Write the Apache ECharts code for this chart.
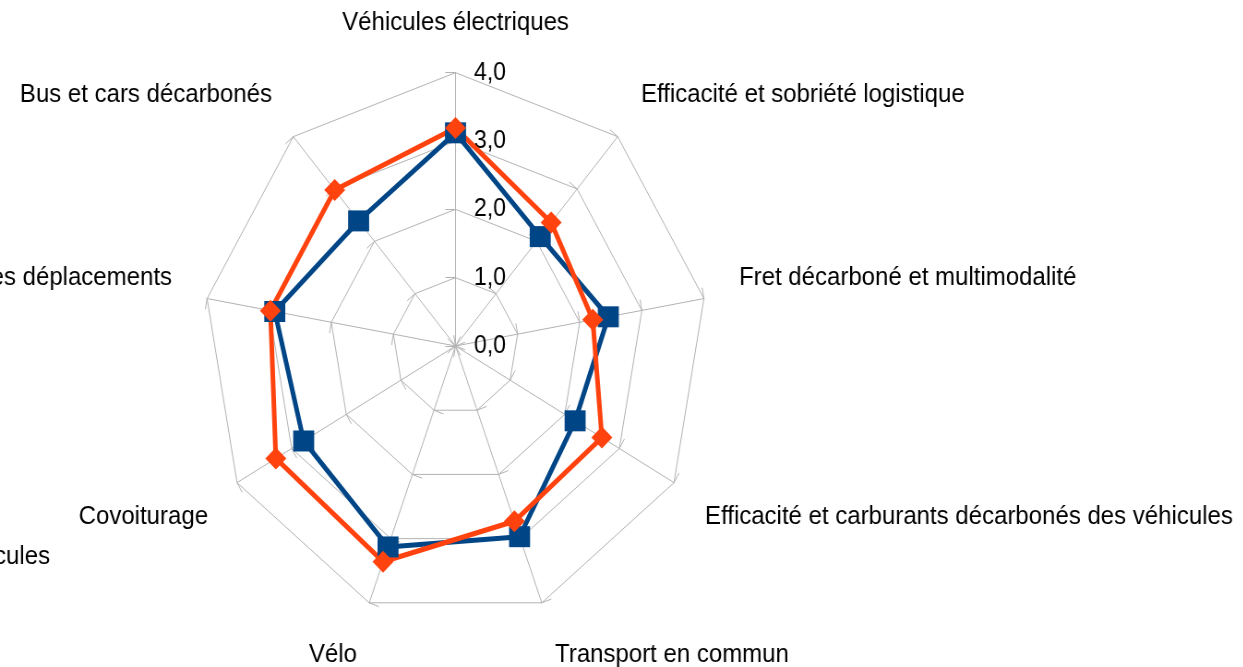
<!DOCTYPE html>
<html>
<head>
<meta charset="utf-8">
<script src="https://cdn.jsdelivr.net/npm/echarts@6/dist/echarts.min.js"></script>
<style>
html, body { margin: 0; padding: 0; overflow: hidden; background: #fff; }
/* the reference is squeezed horizontally, so draw wider and scale back */
#chart { width: 1347px; height: 667px; transform: scaleX(0.923); transform-origin: 0 0; }
</style>
</head>
<body>
<div id="chart"></div>
<script>
// axes, clockwise from the top
var categories = [
  'Véhicules électriques',
  'Efficacité et sobriété logistique',
  'Fret décarboné et multimodalité',
  'Efficacité et carburants décarbonés des véhicules',
  'Transport en commun',
  'Vélo',
  'Covoiturage',
  'Maîtrise des déplacements',
  'Bus et cars décarbonés'
];
var tickLabels = ['0,0', '1,0', '2,0', '3,0', '4,0'];
var serie1 = [3.12, 2.09, 2.46, 2.19, 2.97, 3.13, 2.78, 2.91, 2.39];
var serie2 = [3.19, 2.36, 2.21, 2.68, 2.73, 3.36, 3.29, 2.98, 2.98];
var strayLabel = 'véhicules';

// layout (screen pixels of the final picture)
var SX = 0.923;
var labelPos = [
  [455.5, 23, 'center'],
  [641, 95, 'left'],
  [739, 278, 'left'],
  [705, 517, 'left'],
  [555, 655, 'left'],
  [357, 655, 'right'],
  [208, 517, 'right'],
  [172, 278, 'right'],
  [272, 95, 'right']
];

// echarts lays indicators out counter-clockwise
var order = categories.map(function (c, i) { return i === 0 ? 0 : categories.length - i; });
function ccw(arr) { return order.map(function (i) { return arr[i]; }); }

function label(text, x, y, align) {
  return {
    type: 'text', x: x / SX, y: y,
    style: {
      text: text, fill: '#000', font: '26px "Liberation Sans", Arial, sans-serif',
      align: align, verticalAlign: 'middle', textAlign: align, textVerticalAlign: 'middle'
    }
  };
}

var graphics = labelPos.map(function (p, i) { return label(categories[i], p[0], p[1], p[2]); });
graphics.push(label(strayLabel, 50, 557, 'right'));

var myChart = echarts.init(document.getElementById('chart'));
myChart.setOption({
  animation: false,
  backgroundColor: '#fff',
  radar: {
    center: [455.5 / SX, 346],
    radius: 273.3,
    startAngle: 90,
    splitNumber: 4,
    shape: 'polygon',
    indicator: ccw(categories).map(function (name, i) {
      var ind = { name: name, min: 0, max: 4 };
      if (i === 0) ind.axisLabel = { show: true };
      return ind;
    }),
    axisName: { show: false },
    axisLine: { lineStyle: { color: '#b3b3b3', width: 1 } },
    splitLine: { lineStyle: { color: '#b3b3b3', width: 1 } },
    splitArea: { show: false },
    axisTick: { show: true, length: 11, lineStyle: { color: '#b3b3b3', width: 1 } },
    axisLabel: {
      show: false,
      margin: -20,
      align: 'left',
      color: '#000',
      fontSize: 25,
      fontFamily: '"Liberation Sans", Arial, sans-serif',
      formatter: function (v) { return tickLabels[Math.round(v)]; }
    }
  },
  series: [{
    name: 'Série 1',
    type: 'radar',
    symbol: 'rect',
    symbolSize: [21 / SX, 21],
    lineStyle: { width: 5, color: '#004586' },
    itemStyle: { color: '#004586' },
    data: [{ name: 'Série 1', value: ccw(serie1) }]
  }, {
    name: 'Série 2',
    type: 'radar',
    symbol: 'diamond',
    symbolSize: [21 / SX, 22],
    lineStyle: { width: 5, color: '#ff420e' },
    itemStyle: { color: '#ff420e' },
    data: [{ name: 'Série 2', value: ccw(serie2) }]
  }],
  graphic: graphics
});
</script>
</body>
</html>
